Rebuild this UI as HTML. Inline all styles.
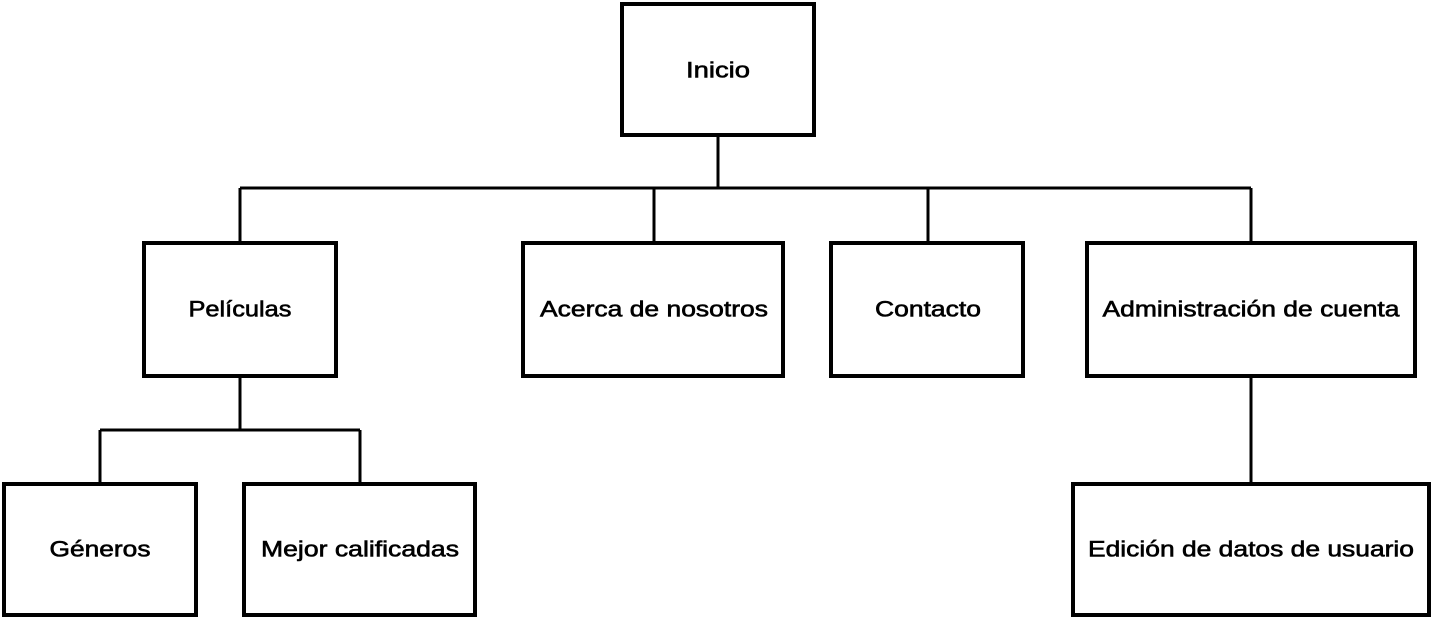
<!DOCTYPE html>
<html><head><meta charset="utf-8"><style>
html,body{margin:0;padding:0;background:#fff;}
svg{display:block}
text{font-family:"Liberation Sans",sans-serif;font-size:22px;fill:#000;stroke:#000;stroke-width:0.6;text-anchor:middle;dominant-baseline:central}
rect{fill:#fff;stroke:#000;stroke-width:4}
line{stroke:#000;stroke-width:3}
</style></head><body>
<svg width="1436" height="620" viewBox="0 0 1436 620">
<line x1="718" y1="135" x2="718" y2="188"/>
<line x1="240" y1="188" x2="1251" y2="188"/>
<line x1="240" y1="188" x2="240" y2="243"/>
<line x1="654" y1="188" x2="654" y2="243"/>
<line x1="928" y1="188" x2="928" y2="243"/>
<line x1="1251" y1="188" x2="1251" y2="243"/>
<line x1="240" y1="377" x2="240" y2="430"/>
<line x1="100" y1="430" x2="360" y2="430"/>
<line x1="100" y1="430" x2="100" y2="484"/>
<line x1="360" y1="430" x2="360" y2="484"/>
<line x1="1251" y1="377" x2="1251" y2="484"/>
<rect x="622" y="4" width="192" height="131"/>
<rect x="144" y="243" width="192" height="133"/>
<rect x="523" y="243" width="260" height="133"/>
<rect x="831" y="243" width="192" height="133"/>
<rect x="1087" y="243" width="328" height="133"/>
<rect x="4" y="484" width="192" height="131"/>
<rect x="244" y="484" width="231" height="131"/>
<rect x="1073" y="484" width="356" height="131"/>
<text x="718" y="70" textLength="64" lengthAdjust="spacingAndGlyphs">Inicio</text>
<text x="240" y="309" textLength="103" lengthAdjust="spacingAndGlyphs">Películas</text>
<text x="654" y="309" textLength="228" lengthAdjust="spacingAndGlyphs">Acerca de nosotros</text>
<text x="928" y="309" textLength="106" lengthAdjust="spacingAndGlyphs">Contacto</text>
<text x="1251" y="309" textLength="297" lengthAdjust="spacingAndGlyphs">Administración de cuenta</text>
<text x="100" y="549" textLength="101" lengthAdjust="spacingAndGlyphs">Géneros</text>
<text x="360" y="549" textLength="198" lengthAdjust="spacingAndGlyphs">Mejor calificadas</text>
<text x="1251" y="549" textLength="326" lengthAdjust="spacingAndGlyphs">Edición de datos de usuario</text>
</svg>
</body></html>
